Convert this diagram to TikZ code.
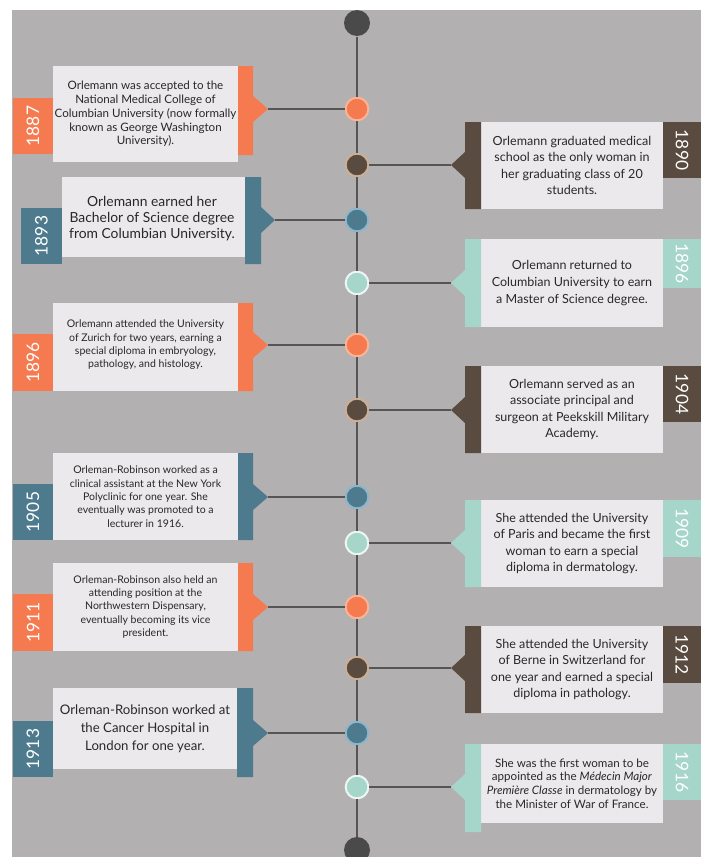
\documentclass[tikz,border=0pt]{standalone}
\usepackage{fontspec}
\setmainfont{Lato}
\definecolor{bggray}{RGB}{179,176,177}
\definecolor{boxwhite}{RGB}{236,233,237}
\definecolor{orng}{RGB}{246,122,80}
\definecolor{orngring}{RGB}{250,180,150}
\definecolor{brwn}{RGB}{90,75,64}
\definecolor{brwnring}{RGB}{205,175,150}
\definecolor{blu}{RGB}{78,122,142}
\definecolor{bluring}{RGB}{140,182,206}
\definecolor{mint}{RGB}{166,214,202}
\definecolor{mintring}{RGB}{238,247,243}
\definecolor{enddark}{RGB}{74,74,74}
\definecolor{linegray}{RGB}{85,85,85}
\definecolor{textdark}{RGB}{40,40,40}
\tikzset{every picture/.style={line width=0.75pt}}
\tikzset{
	dot/.style={circle, inner sep=0pt, minimum size=17pt, line width=1.5pt},
	enddot/.style={circle, inner sep=0pt, minimum size=19.5pt, fill=enddark},
	link/.style={draw=linegray, line width=1.2pt},
	evttxt/.style={inner sep=0pt, align=center, text=textdark},
	smalltxt/.style={font=\fontsize{7.9}{10}\selectfont},
	midtxt/.style={font=\fontsize{8.7}{10.3}\selectfont},
	bigtxt/.style={font=\fontsize{9.4}{12.4}\selectfont},
	largetxt/.style={font=\fontsize{10.4}{12}\selectfont},
	hugetxt/.style={font=\fontsize{9.9}{13.4}\selectfont},
	yearlbl/.style={inner sep=0pt, text=white, font=\fontsize{13}{13}\selectfont}
}

\begin{document}
\begin{tikzpicture}[x=0.75pt,y=0.75pt,yscale=-1,xscale=1]
	\useasboundingbox (0,0) rectangle (704,857);
	%Shape: Rectangle (background)
	\fill[bggray] (12,10) rectangle (701,857);

	%Shape: Circle (ends)
	\node[enddot] (top) at (357,23) {};
	\node[enddot] (bot) at (357,850) {};

	%%%%% 1887
	\fill[boxwhite] (53,66) rectangle (238,162);
	\fill[orng] (238,66) -- (253,66) -- (253,96) -- (268,109) -- (253,122) -- (253,155) -- (238,155) -- cycle;
	\coordinate (p1887) at (268,109);
	\fill[orng] (13,98) rectangle (53,154);
	% Text Node
	\node[yearlbl, rotate=90] (y1887) at (33,126) {1887};
	% Text Node
	\node[evttxt, midtxt] (t1887) at (145.5,114) {Orlemann was accepted to the\\National Medical College of\\Columbian University (now formally\\known as George Washington\\University).};
	\node[dot, fill=orng, draw=orngring] (c1887) at (357,109) {};

	%%%%% 1890
	\fill[boxwhite] (481,122) rectangle (663,209);
	\fill[brwn] (481,122) -- (465,122) -- (465,152) -- (451,165) -- (465,178) -- (465,209) -- (481,209) -- cycle;
	\coordinate (p1890) at (451,165);
	\fill[brwn] (663,122) rectangle (701,178);
	% Text Node
	\node[yearlbl, rotate=-90] (y1890) at (682,150) {1890};
	% Text Node
	\node[evttxt, bigtxt] (t1890) at (572,165.5) {Orlemann graduated medical\\school as the only woman in\\her graduating class of 20\\students.};
	\node[dot, fill=brwn, draw=brwnring] (c1890) at (357,165) {};

	%%%%% 1893
	\fill[boxwhite] (62,177) rectangle (245,257);
	\fill[blu] (245,177) -- (261,177) -- (261,207) -- (275,220) -- (261,233) -- (261,264) -- (245,264) -- cycle;
	\coordinate (p1893) at (275,220);
	\fill[blu] (21,208) rectangle (62,264);
	% Text Node
	\node[yearlbl, rotate=90] (y1893) at (41.5,236) {1893};
	% Text Node
	\node[evttxt, largetxt] (t1893) at (152,218.5) {Orlemann earned her\\Bachelor of Science degree\\from Columbian University.};
	\node[dot, fill=blu, draw=bluring] (c1893) at (357,220) {};

	%%%%% 1896 (right)
	\fill[boxwhite] (481,239) rectangle (663,327);
	\fill[mint] (481,239) -- (465,239) -- (465,270) -- (451,283) -- (465,296) -- (465,327) -- (481,327) -- cycle;
	\coordinate (p1896b) at (451,283);
	\fill[mint] (663,239) rectangle (701,288);
	% Text Node
	\node[yearlbl, rotate=-90] (y1896b) at (682,263.5) {1896};
	% Text Node
	\node[evttxt, bigtxt] (t1896b) at (572,283) {Orlemann returned to\\Columbian University to earn\\a Master of Science degree.};
	\node[dot, fill=mint, draw=mintring] (c1896b) at (357,283) {};

	%%%%% 1896 (left)
	\fill[boxwhite] (53,303) rectangle (238,391);
	\fill[orng] (238,303) -- (253,303) -- (253,332) -- (268,345) -- (253,358) -- (253,391) -- (238,391) -- cycle;
	\coordinate (p1896a) at (268,345);
	\fill[orng] (13,334) rectangle (53,391);
	% Text Node
	\node[yearlbl, rotate=90] (y1896a) at (33,362.5) {1896};
	% Text Node
	\node[evttxt, smalltxt] (t1896a) at (145.5,345) {Orlemann attended the University\\of Zurich for two years, earning a\\special diploma in embryology,\\pathology, and histology.};
	\node[dot, fill=orng, draw=orngring] (c1896a) at (357,345) {};

	%%%%% 1904
	\fill[boxwhite] (481,366) rectangle (663,453);
	\fill[brwn] (481,366) -- (465,366) -- (465,397) -- (451,410) -- (465,423) -- (465,453) -- (481,453) -- cycle;
	\coordinate (p1904) at (451,410);
	\fill[brwn] (663,366) rectangle (701,422);
	% Text Node
	\node[yearlbl, rotate=-90] (y1904) at (682,394) {1904};
	% Text Node
	\node[evttxt, bigtxt] (t1904) at (572,409.5) {Orlemann served as an\\associate principal and\\surgeon at Peekskill Military\\Academy.};
	\node[dot, fill=brwn, draw=brwnring] (c1904) at (357,410) {};

	%%%%% 1905
	\fill[boxwhite] (53,453) rectangle (238,540);
	\fill[blu] (238,453) -- (253,453) -- (253,484) -- (268,497) -- (253,510) -- (253,540) -- (238,540) -- cycle;
	\coordinate (p1905) at (268,497);
	\fill[blu] (13,484) rectangle (53,540);
	% Text Node
	\node[yearlbl, rotate=90] (y1905) at (33,512) {1905};
	% Text Node
	\node[evttxt, smalltxt] (t1905) at (145.5,496.5) {Orleman-Robinson worked as a\\clinical assistant at the New York\\Polyclinic for one year. She\\eventually was promoted to a\\lecturer in 1916.};
	\node[dot, fill=blu, draw=bluring] (c1905) at (357,497) {};

	%%%%% 1909
	\fill[boxwhite] (481,500) rectangle (663,587);
	\fill[mint] (481,500) -- (465,500) -- (465,530) -- (451,543) -- (465,556) -- (465,587) -- (481,587) -- cycle;
	\coordinate (p1909) at (451,543);
	\fill[mint] (663,500) rectangle (701,557);
	% Text Node
	\node[yearlbl, rotate=-90] (y1909) at (682,528.5) {1909};
	% Text Node
	\node[evttxt, bigtxt] (t1909) at (572,543.5) {She attended the University\\of Paris and became the first\\woman to earn a special\\diploma in dermatology.};
	\node[dot, fill=mint, draw=mintring] (c1909) at (357,543) {};

	%%%%% 1911
	\fill[boxwhite] (53,563) rectangle (238,651);
	\fill[orng] (238,563) -- (253,563) -- (253,594) -- (268,607) -- (253,620) -- (253,651) -- (238,651) -- cycle;
	\coordinate (p1911) at (268,607);
	\fill[orng] (13,594) rectangle (53,651);
	% Text Node
	\node[yearlbl, rotate=90] (y1911) at (33,622.5) {1911};
	% Text Node
	\node[evttxt, smalltxt] (t1911) at (145.5,607) {Orleman-Robinson also held an\\attending position at the\\Northwestern Dispensary,\\eventually becoming its vice\\president.};
	\node[dot, fill=orng, draw=orngring] (c1911) at (357,607) {};

	%%%%% 1912
	\fill[boxwhite] (481,626) rectangle (663,713);
	\fill[brwn] (481,626) -- (465,626) -- (465,655) -- (451,668) -- (465,681) -- (465,713) -- (481,713) -- cycle;
	\coordinate (p1912) at (451,668);
	\fill[brwn] (663,626) rectangle (701,683);
	% Text Node
	\node[yearlbl, rotate=-90] (y1912) at (682,654.5) {1912};
	% Text Node
	\node[evttxt, bigtxt] (t1912) at (572,669.5) {She attended the University\\of Berne in Switzerland for\\one year and earned a special\\diploma in pathology.};
	\node[dot, fill=brwn, draw=brwnring] (c1912) at (357,668) {};

	%%%%% 1913
	\fill[boxwhite] (53,688) rectangle (237,769);
	\fill[blu] (237,688) -- (253,688) -- (253,720) -- (268,733) -- (253,746) -- (253,777) -- (237,777) -- cycle;
	\coordinate (p1913) at (268,733);
	\fill[blu] (13,721) rectangle (53,777);
	% Text Node
	\node[yearlbl, rotate=90] (y1913) at (33,749) {1913};
	% Text Node
	\node[evttxt, hugetxt] (t1913) at (145,728.5) {Orleman-Robinson worked at\\the Cancer Hospital in\\London for one year.};
	\node[dot, fill=blu, draw=bluring] (c1913) at (357,733) {};

	%%%%% 1916
	\fill[boxwhite] (481,744) rectangle (663,823);
	\fill[mint] (481,744) -- (465,744) -- (465,774) -- (451,787) -- (465,800) -- (465,832) -- (481,832) -- cycle;
	\coordinate (p1916) at (451,787);
	\fill[mint] (663,744) rectangle (701,800);
	% Text Node
	\node[yearlbl, rotate=-90] (y1916) at (682,772) {1916};
	% Text Node
	\node[evttxt, midtxt] (t1916) at (572,783.5) {She was the first woman to be\\appointed as the \textit{Médecin Major}\\\textit{Première Classe} in dermatology by\\the Minister of War of France.};
	\node[dot, fill=mint, draw=mintring] (c1916) at (357,787) {};

	%Straight Lines (timeline)
	\draw[link] (top) -- (c1887) -- (c1890) -- (c1893) -- (c1896b) -- (c1896a) -- (c1904) -- (c1905) -- (c1909) -- (c1911) -- (c1912) -- (c1913) -- (c1916) -- (bot);
	%Straight Lines (connectors)
	\draw[link] (p1887) -- (c1887);
	\draw[link] (c1890) -- (p1890);
	\draw[link] (p1893) -- (c1893);
	\draw[link] (c1896b) -- (p1896b);
	\draw[link] (p1896a) -- (c1896a);
	\draw[link] (c1904) -- (p1904);
	\draw[link] (p1905) -- (c1905);
	\draw[link] (c1909) -- (p1909);
	\draw[link] (p1911) -- (c1911);
	\draw[link] (c1912) -- (p1912);
	\draw[link] (p1913) -- (c1913);
	\draw[link] (c1916) -- (p1916);

\end{tikzpicture}
\end{document}
